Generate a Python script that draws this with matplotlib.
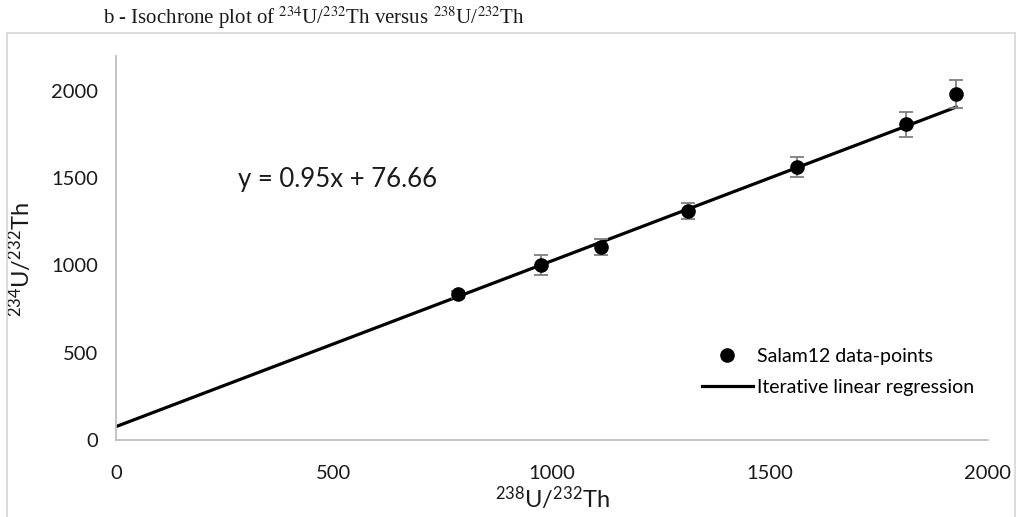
import matplotlib
matplotlib.use("Agg")
import matplotlib.pyplot as plt
from matplotlib.lines import Line2D
from matplotlib.patches import Rectangle
import numpy as np

# ---- data ----
x_ratio = [784, 975, 1112, 1312, 1562, 1812, 1927]      # 238U/232Th
y_ratio = [835, 1003, 1106, 1312, 1564, 1808, 1980]     # 234U/232Th
y_err = [20, 56, 46, 46, 57, 72, 80]
slope = 0.95
intercept = 76.66
x_ticks = [0, 500, 1000, 1500, 2000]
y_ticks = [0, 500, 1000, 1500, 2000]

plt.rcParams['font.family'] = ['Lato', 'DejaVu Sans']
plt.rcParams['mathtext.fontset'] = 'custom'
plt.rcParams['mathtext.rm'] = 'Lato'
plt.rcParams['mathtext.it'] = 'Lato:italic'
plt.rcParams['mathtext.bf'] = 'Lato:bold'

W, H = 1020, 517
fig = plt.figure(figsize=(W / 100, H / 100), dpi=100)

# outer chart border
fig.patches.append(Rectangle((7 / W, -0.1), (1015 - 7) / W, (517 - 33) / H + 0.1,
                             transform=fig.transFigure, fill=False,
                             edgecolor='#d9d9d9', linewidth=1.3))

ax = fig.add_axes([116 / W, (H - 440) / H, (988 - 116) / W, (440 - 56) / H])
ax.set_xlim(0, 2000)
ax.set_ylim(0, 2200)
ax.set_xticks(x_ticks)
ax.set_yticks(y_ticks)
for s in ['top', 'right']:
    ax.spines[s].set_visible(False)
for s in ['left', 'bottom']:
    ax.spines[s].set_color('#bfbfbf')
    ax.spines[s].set_linewidth(1.3)
ax.tick_params(axis='both', length=0, labelsize=14.5, colors='#1a1a1a')
ax.tick_params(axis='y', pad=13)
ax.tick_params(axis='x', pad=18)

# regression line
xl = np.array([0, max(x_ratio)])
ax.plot(xl, slope * xl + intercept, color='black', linewidth=2.3, zorder=2)

# data points with error bars
ax.errorbar(x_ratio, y_ratio, yerr=y_err, fmt='o', color='black', markersize=9.5,
            ecolor='#7f7f7f', elinewidth=1.3, capsize=5, capthick=1.3, zorder=3)

ax.text(280, 1490, 'y = 0.95x + 76.66', fontsize=18.5, va='center', ha='left', color='#1a1a1a')

ax.set_xlabel(r'$^{238}$U/$^{232}$Th', fontsize=17, labelpad=2, color='#1a1a1a')
ax.set_ylabel(r'$^{234}$U/$^{232}$Th', fontsize=17, color='#1a1a1a')
ax.yaxis.set_label_coords(-0.094, 0.47)

handles = [Line2D([], [], marker='o', linestyle='none', color='black', markersize=9.5),
           Line2D([], [], color='black', linewidth=2.3)]
ax.legend(handles, ['Salam12 data-points', 'Iterative linear regression'],
          loc='center left', bbox_to_anchor=(702 / W, 1 - 372 / H),
          bbox_transform=fig.transFigure, frameon=False, fontsize=14,
          handlelength=2.6, handletextpad=0.25, labelspacing=0.7, borderaxespad=0,
          borderpad=0)

fig.text(103 / W, 1 - 24 / H,
         r'b - Isochrone plot of $^{234}$U/$^{232}$Th versus $^{238}$U/$^{232}$Th',
         family='Liberation Serif', math_fontfamily='stix', fontsize=15,
         va='baseline', ha='left', color='#1a1a1a')

fig.savefig('out.png', dpi=100)
